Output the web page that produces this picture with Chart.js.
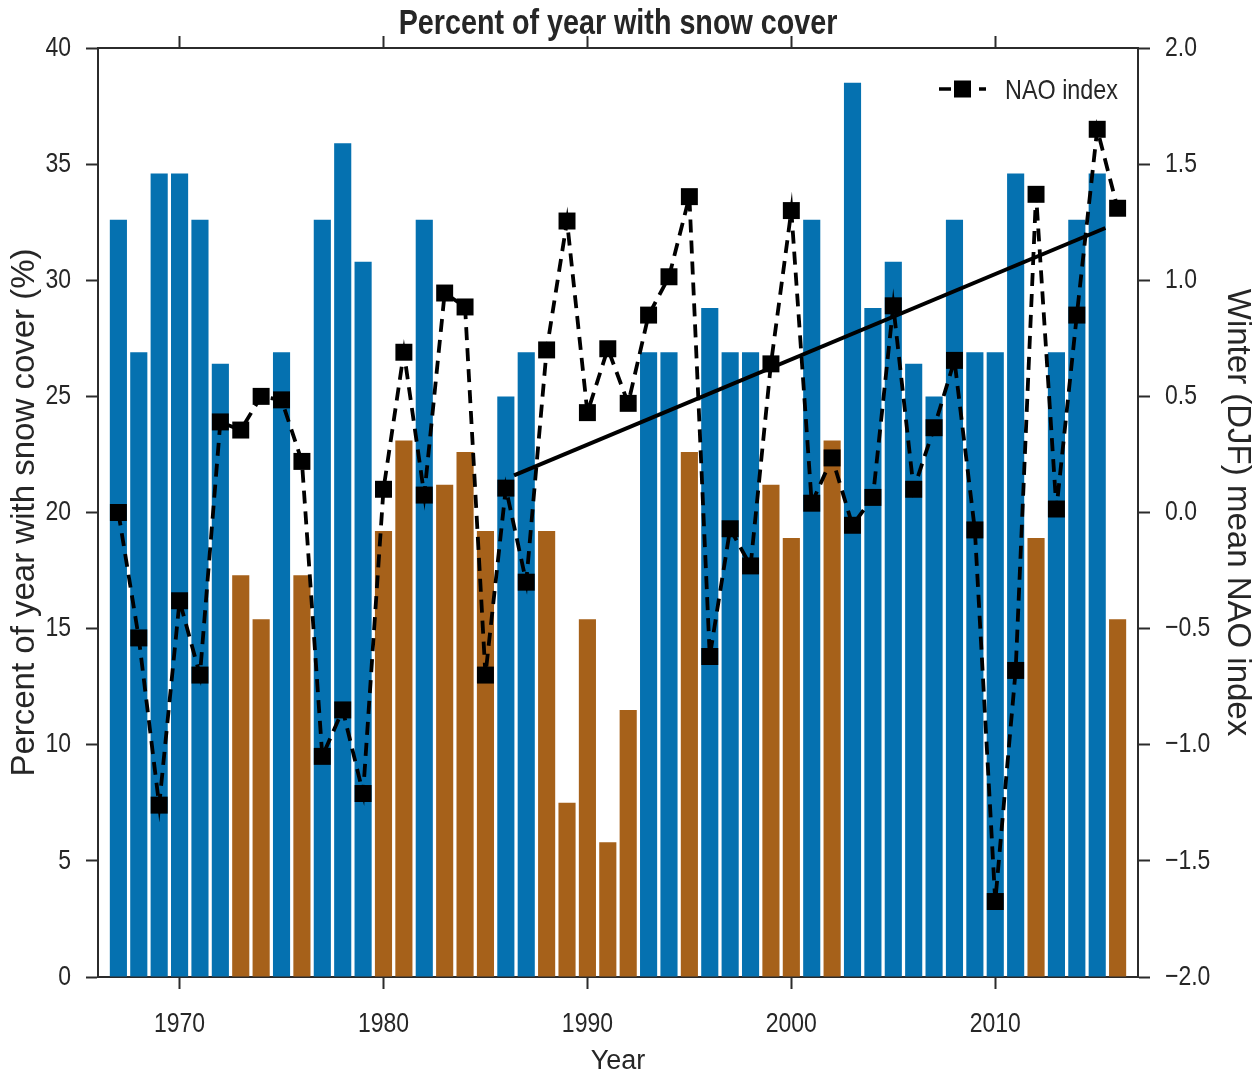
<!DOCTYPE html>
<html>
<head>
<meta charset="utf-8">
<script src="https://cdn.jsdelivr.net/npm/chart.js@4.4.1/dist/chart.umd.min.js"></script>
<style>
  html, body { margin: 0; padding: 0; background: #ffffff; }
  #wrap { width: 1255px; height: 1080px; }
</style>
</head>
<body>
<div id="wrap"><canvas id="c" width="1255" height="1080"></canvas></div>
<script>
// ---------------- data ----------------
const years = [1967,1968,1969,1970,1971,1972,1973,1974,1975,1976,
               1977,1978,1979,1980,1981,1982,1983,1984,1985,1986,
               1987,1988,1989,1990,1991,1992,1993,1994,1995,1996,
               1997,1998,1999,2000,2001,2002,2003,2004,2005,2006,
               2007,2008,2009,2010,2011,2012,2013,2014,2015,2016];

const snowCover = [32.6,26.9,34.6,34.6,32.6,26.4,17.3,15.4,26.9,17.3,
                   32.6,35.9,30.8,19.2,23.1,32.6,21.2,22.6,19.2,25.0,
                   26.9,19.2,7.5,15.4,5.8,11.5,26.9,26.9,22.6,28.8,
                   26.9,26.9,21.2,18.9,32.6,23.1,38.5,28.8,30.8,26.4,
                   25.0,32.6,26.9,26.9,34.6,18.9,26.9,32.6,34.6,15.4];

const naoIndex = [0.00,-0.54,-1.26,-0.38,-0.70,0.39,0.355,0.50,0.485,0.22,
                  -1.05,-0.85,-1.21,0.10,0.69,0.075,0.945,0.885,-0.70,0.105,
                  -0.30,0.70,1.255,0.43,0.705,0.47,0.85,1.015,1.36,-0.62,
                  -0.07,-0.23,0.64,1.30,0.04,0.235,-0.055,0.065,0.89,0.10,
                  0.365,0.655,-0.075,-1.675,-0.68,1.37,0.015,0.85,1.65,1.31];

const trendYears = [1986.4, 2015.4];
const trendValues = [0.16, 1.225];

const leftTicks = [0,5,10,15,20,25,30,35,40];
const rightTicks = [-2.0,-1.5,-1.0,-0.5,0.0,0.5,1.0,1.5,2.0];
const yearTicks = [1970,1980,1990,2000,2010];

const titleText = 'Percent of year with snow cover';
const leftTitle = 'Percent of year with snow cover (%)';
const rightTitle = 'Winter (DJF) mean NAO index';
const xTitle = 'Year';
const legendText = 'NAO index';
const highThreshold = 24;

// ---------------- styles ----------------
const BLUE = '#0571b0';
const BROWN = '#a6611a';
const AXIS = '#2b2b2b';
const TEXT = '#262626';
// "Narrowed" is a marker family: text using it is drawn with Liberation Sans, horizontally condensed.
const NARROW = "Narrowed, 'Liberation Sans', Arial, sans-serif";
const REG = "'Liberation Sans', Arial, sans-serif";
const NARROW_FACTOR = 0.82;

const canvas = document.getElementById('c');
const ctx0 = canvas.getContext('2d');
(function patchNarrow(ctx) {
  const origFill = ctx.fillText;
  ctx.fillText = function (text, x, y, maxWidth) {
    if (String(this.font).indexOf('Narrowed') >= 0) {
      this.save();
      this.translate(x, y);
      this.scale(NARROW_FACTOR, 1);
      if (maxWidth !== undefined) origFill.call(this, text, 0, 0, maxWidth / NARROW_FACTOR);
      else origFill.call(this, text, 0, 0);
      this.restore();
    } else {
      if (maxWidth !== undefined) origFill.call(this, text, x, y, maxWidth);
      else origFill.call(this, text, x, y);
    }
  };
})(ctx0);

const setTicks = arr => (s => { s.ticks = arr.map(v => ({ value: v })); });

const gridCommon = {
  drawOnChartArea: false, drawTicks: true, tickLength: 12,
  tickWidth: 2, tickColor: AXIS, offset: false
};
const borderCommon = { display: true, color: AXIS, width: 2 };

const titlePlugin = {
  id: 'titlePlugin',
  afterDraw(chart) {
    const { ctx, chartArea } = chart;
    ctx.save();
    ctx.fillStyle = TEXT;
    ctx.font = "bold 35px " + NARROW;
    ctx.textAlign = 'center';
    ctx.textBaseline = 'alphabetic';
    ctx.fillText(titleText, (chartArea.left + chartArea.right) / 2, 34);
    ctx.restore();
  }
};

const legendPlugin = {
  id: 'legendPlugin',
  afterDraw(chart) {
    const { ctx, chartArea } = chart;
    const y = chartArea.top + 41;
    const x0 = chartArea.right - 199;
    const x1 = chartArea.right - 152;
    const mx = chartArea.right - 175.5;
    ctx.save();
    ctx.strokeStyle = '#000';
    ctx.lineWidth = 3.5;
    ctx.setLineDash([12, 8]);
    ctx.beginPath();
    ctx.moveTo(x0, y);
    ctx.lineTo(x1, y);
    ctx.stroke();
    ctx.setLineDash([]);
    ctx.fillStyle = '#000';
    ctx.fillRect(mx - 8.5, y - 8.5, 17, 17);
    ctx.fillStyle = TEXT;
    ctx.font = "28.5px " + NARROW;
    ctx.textAlign = 'left';
    ctx.textBaseline = 'alphabetic';
    ctx.fillText(legendText, chartArea.right - 133, y + 10);
    ctx.restore();
  }
};

new Chart(canvas, {
  type: 'bar',
  data: {
    datasets: [
      {
        type: 'line',
        label: 'NAO index',
        data: years.map((y, i) => ({ x: y, y: naoIndex[i] })),
        xAxisID: 'x', yAxisID: 'y2',
        borderColor: '#000', borderWidth: 3.8, borderDash: [13, 8],
        pointStyle: 'rect', pointRadius: 12, pointBackgroundColor: '#000',
        pointBorderWidth: 0, fill: false, tension: 0, order: 0
      },
      {
        type: 'line',
        label: 'trend',
        data: trendYears.map((y, i) => ({ x: y, y: trendValues[i] })),
        xAxisID: 'x', yAxisID: 'y2',
        borderColor: '#000', borderWidth: 4, pointRadius: 0,
        fill: false, tension: 0, order: 1
      },
      {
        type: 'bar',
        label: 'Snow cover',
        data: years.map((y, i) => ({ x: y, y: snowCover[i] })),
        xAxisID: 'x', yAxisID: 'y',
        backgroundColor: snowCover.map(v => v >= highThreshold ? BLUE : BROWN),
        borderWidth: 0,
        barPercentage: 0.84, categoryPercentage: 1.0, order: 2
      }
    ]
  },
  options: {
    responsive: false,
    animation: false,
    devicePixelRatio: 1,
    layout: { padding: 0 },
    plugins: {
      legend: { display: false },
      tooltip: { enabled: false },
      title: { display: false }
    },
    scales: {
      x: {
        type: 'linear', position: 'bottom', min: 1966, max: 2017, offset: false,
        afterBuildTicks: setTicks(yearTicks),
        afterFit: s => { s.height = 103; },
        grid: gridCommon, border: borderCommon,
        ticks: {
          color: TEXT, font: { family: NARROW, size: 28 }, padding: 18,
          maxRotation: 0, autoSkip: false, callback: v => String(v)
        },
        title: {
          display: true, text: xTitle, color: TEXT,
          font: { family: REG, size: 27, lineHeight: 1.2 }, padding: { top: 0, bottom: 2 }
        }
      },
      x2: {
        type: 'linear', position: 'top', min: 1966, max: 2017, offset: false,
        afterBuildTicks: setTicks(yearTicks),
        afterFit: s => { s.height = 48; },
        grid: gridCommon, border: borderCommon,
        ticks: { display: false }
      },
      y: {
        type: 'linear', position: 'left', min: 0, max: 40,
        afterBuildTicks: setTicks(leftTicks),
        afterFit: s => { s.width = 98; },
        grid: gridCommon, border: borderCommon,
        ticks: {
          color: TEXT, font: { family: NARROW, size: 28 }, padding: 15,
          autoSkip: false, callback: v => String(v)
        },
        title: {
          display: true, text: leftTitle, color: TEXT,
          font: { family: REG, size: 33, lineHeight: 1.0 }, padding: { top: 8, bottom: 0 }
        }
      },
      y2: {
        type: 'linear', position: 'right', min: -2, max: 2,
        afterBuildTicks: setTicks(rightTicks),
        afterFit: s => { s.width = 117; },
        grid: gridCommon, border: borderCommon,
        ticks: {
          color: TEXT, font: { family: NARROW, size: 28 }, padding: 15,
          autoSkip: false,
          callback: v => (v < 0 ? '\u2212' : '') + Math.abs(v).toFixed(1)
        },
        title: {
          display: true, text: rightTitle, color: TEXT,
          font: { family: REG, size: 33, lineHeight: 1.0 }, padding: { top: 1, bottom: 0 }
        }
      }
    }
  },
  plugins: [titlePlugin, legendPlugin]
});
</script>
</body>
</html>
